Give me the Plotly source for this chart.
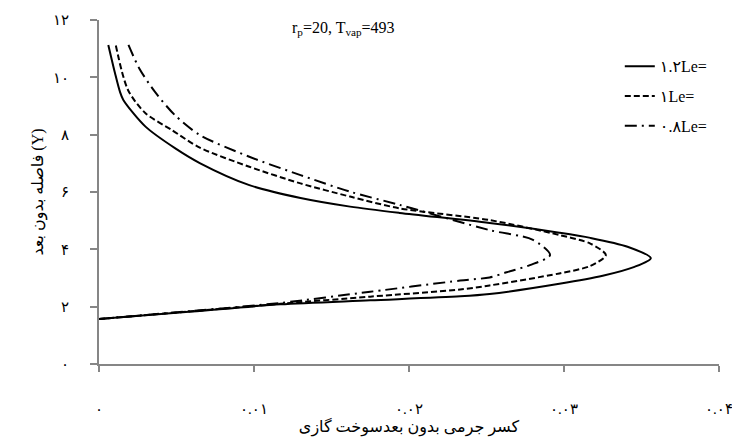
import plotly.graph_objects as go

# Le = 1.2 (solid)
le12_x = [0.0, 0.006, 0.0117, 0.0175, 0.0233, 0.0252, 0.0297, 0.0325, 0.0345, 0.0356,
          0.0341, 0.0317, 0.0297, 0.0252, 0.0194, 0.0162, 0.013, 0.0097, 0.0065, 0.0049,
          0.003, 0.00157, 0.00135, 0.00103, 0.0006]
le12_y = [1.57, 1.83, 2.08, 2.22, 2.36, 2.44, 2.80, 3.08, 3.38, 3.69,
          4.09, 4.40, 4.58, 4.92, 5.27, 5.49, 5.79, 6.24, 7.01, 7.53,
          8.28, 9.21, 9.50, 10.15, 11.13]

# Le = 1 (dashed)
le10_x = [0.0, 0.006, 0.0117, 0.0175, 0.0233, 0.0252, 0.0297, 0.0317, 0.0327,
          0.0317, 0.0297, 0.0252, 0.0194, 0.0162, 0.013, 0.0097, 0.0065, 0.0047,
          0.003, 0.00187, 0.00108]
le10_y = [1.57, 1.84, 2.10, 2.35, 2.60, 2.74, 3.16, 3.42, 3.80,
          4.20, 4.50, 5.02, 5.43, 5.84, 6.30, 6.88, 7.55, 8.16,
          8.75, 9.56, 11.13]

# Le = 0.8 (dash-dot)
le08_x = [0.0, 0.006, 0.0117, 0.0175, 0.0233, 0.0252, 0.0263, 0.0278, 0.0291,
          0.028, 0.0252, 0.0194, 0.0162, 0.013, 0.0097, 0.0065, 0.0049,
          0.0036, 0.0026, 0.0019]
le08_y = [1.57, 1.85, 2.13, 2.52, 2.91, 3.02, 3.20, 3.45, 3.80,
          4.33, 4.67, 5.55, 6.01, 6.59, 7.23, 7.99, 8.68,
          9.50, 10.31, 11.13]

x_tick_vals = [0, 0.01, 0.02, 0.03, 0.04]
x_tick_text = ["۰", "۰.۰۱", "۰.۰۲", "۰.۰۳", "۰.۰۴"]
y_tick_vals = [0, 2, 4, 6, 8, 10, 12]
y_tick_text = ["۰", "۲", "۴", "۶", "۸", "۱۰", "۱۲"]

series_names = ["۱.۲Le=", "۱Le=", "۰.۸Le="]

FONT = "Liberation Serif, Times New Roman, DejaVu Sans, serif"

fig = go.Figure()
fig.add_trace(go.Scatter(x=le12_x, y=le12_y, mode="lines", name=series_names[0], legendgroup="a",
                         line=dict(color="black", width=2, shape="spline", smoothing=0.8)))
fig.add_trace(go.Scatter(x=le10_x, y=le10_y, mode="lines", name=series_names[1], legendgroup="b",
                         line=dict(color="black", width=2, dash="6px,3px", shape="spline", smoothing=0.8)))
fig.add_trace(go.Scatter(x=le08_x, y=le08_y, mode="lines", name=series_names[2], legendgroup="c",
                         line=dict(color="black", width=2, dash="12px,5px,2px,5px", shape="spline", smoothing=0.8)))

axis_color = "#868686"
fig.update_layout(
    width=732, height=438,
    margin=dict(l=99, r=13, t=20, b=74, autoexpand=False),
    paper_bgcolor="white", plot_bgcolor="white",
    font=dict(family=FONT, size=15, color="black"),
    showlegend=True,
    legend=dict(x=0.84, y=0.915, xanchor="left", yanchor="top",
                bgcolor="rgba(0,0,0,0)", font=dict(size=16, family=FONT),
                tracegroupgap=6, itemwidth=30),
    xaxis=dict(range=[0, 0.04], tickvals=x_tick_vals, ticktext=x_tick_text,
               showgrid=False, zeroline=False, showline=True, linecolor=axis_color, linewidth=2,
               ticks="outside", tickcolor=axis_color, ticklen=6, tickwidth=2,
               ticklabelstandoff=24, ticklabeloverflow="allow", automargin=False,
               title=dict(text="کسر جرمی بدون بعدسوخت گازی", font=dict(size=16, family=FONT, color="black"), standoff=0)),
    yaxis=dict(range=[0, 12], tickvals=y_tick_vals, ticktext=y_tick_text,
               showgrid=False, zeroline=False, showline=True, linecolor=axis_color, linewidth=2,
               ticks="outside", tickcolor=axis_color, ticklen=7, tickwidth=2,
               ticklabelstandoff=18, ticklabeloverflow="allow", automargin=False,
               title=dict(text="فاصله بدون بعد (Y)", font=dict(size=16, family=FONT, color="black"), standoff=5)),
    annotations=[dict(text="r<sub>p</sub>=20, T<sub>vap</sub>=493", x=0.0158, y=11.72,
                      xref="x", yref="y", xanchor="center", yanchor="middle",
                      showarrow=False, font=dict(size=16, family=FONT))],
)

fig.write_html("out.html", config={"displayModeBar": False},
               post_script="document.body.style.margin='0';document.body.style.overflow='hidden';")
